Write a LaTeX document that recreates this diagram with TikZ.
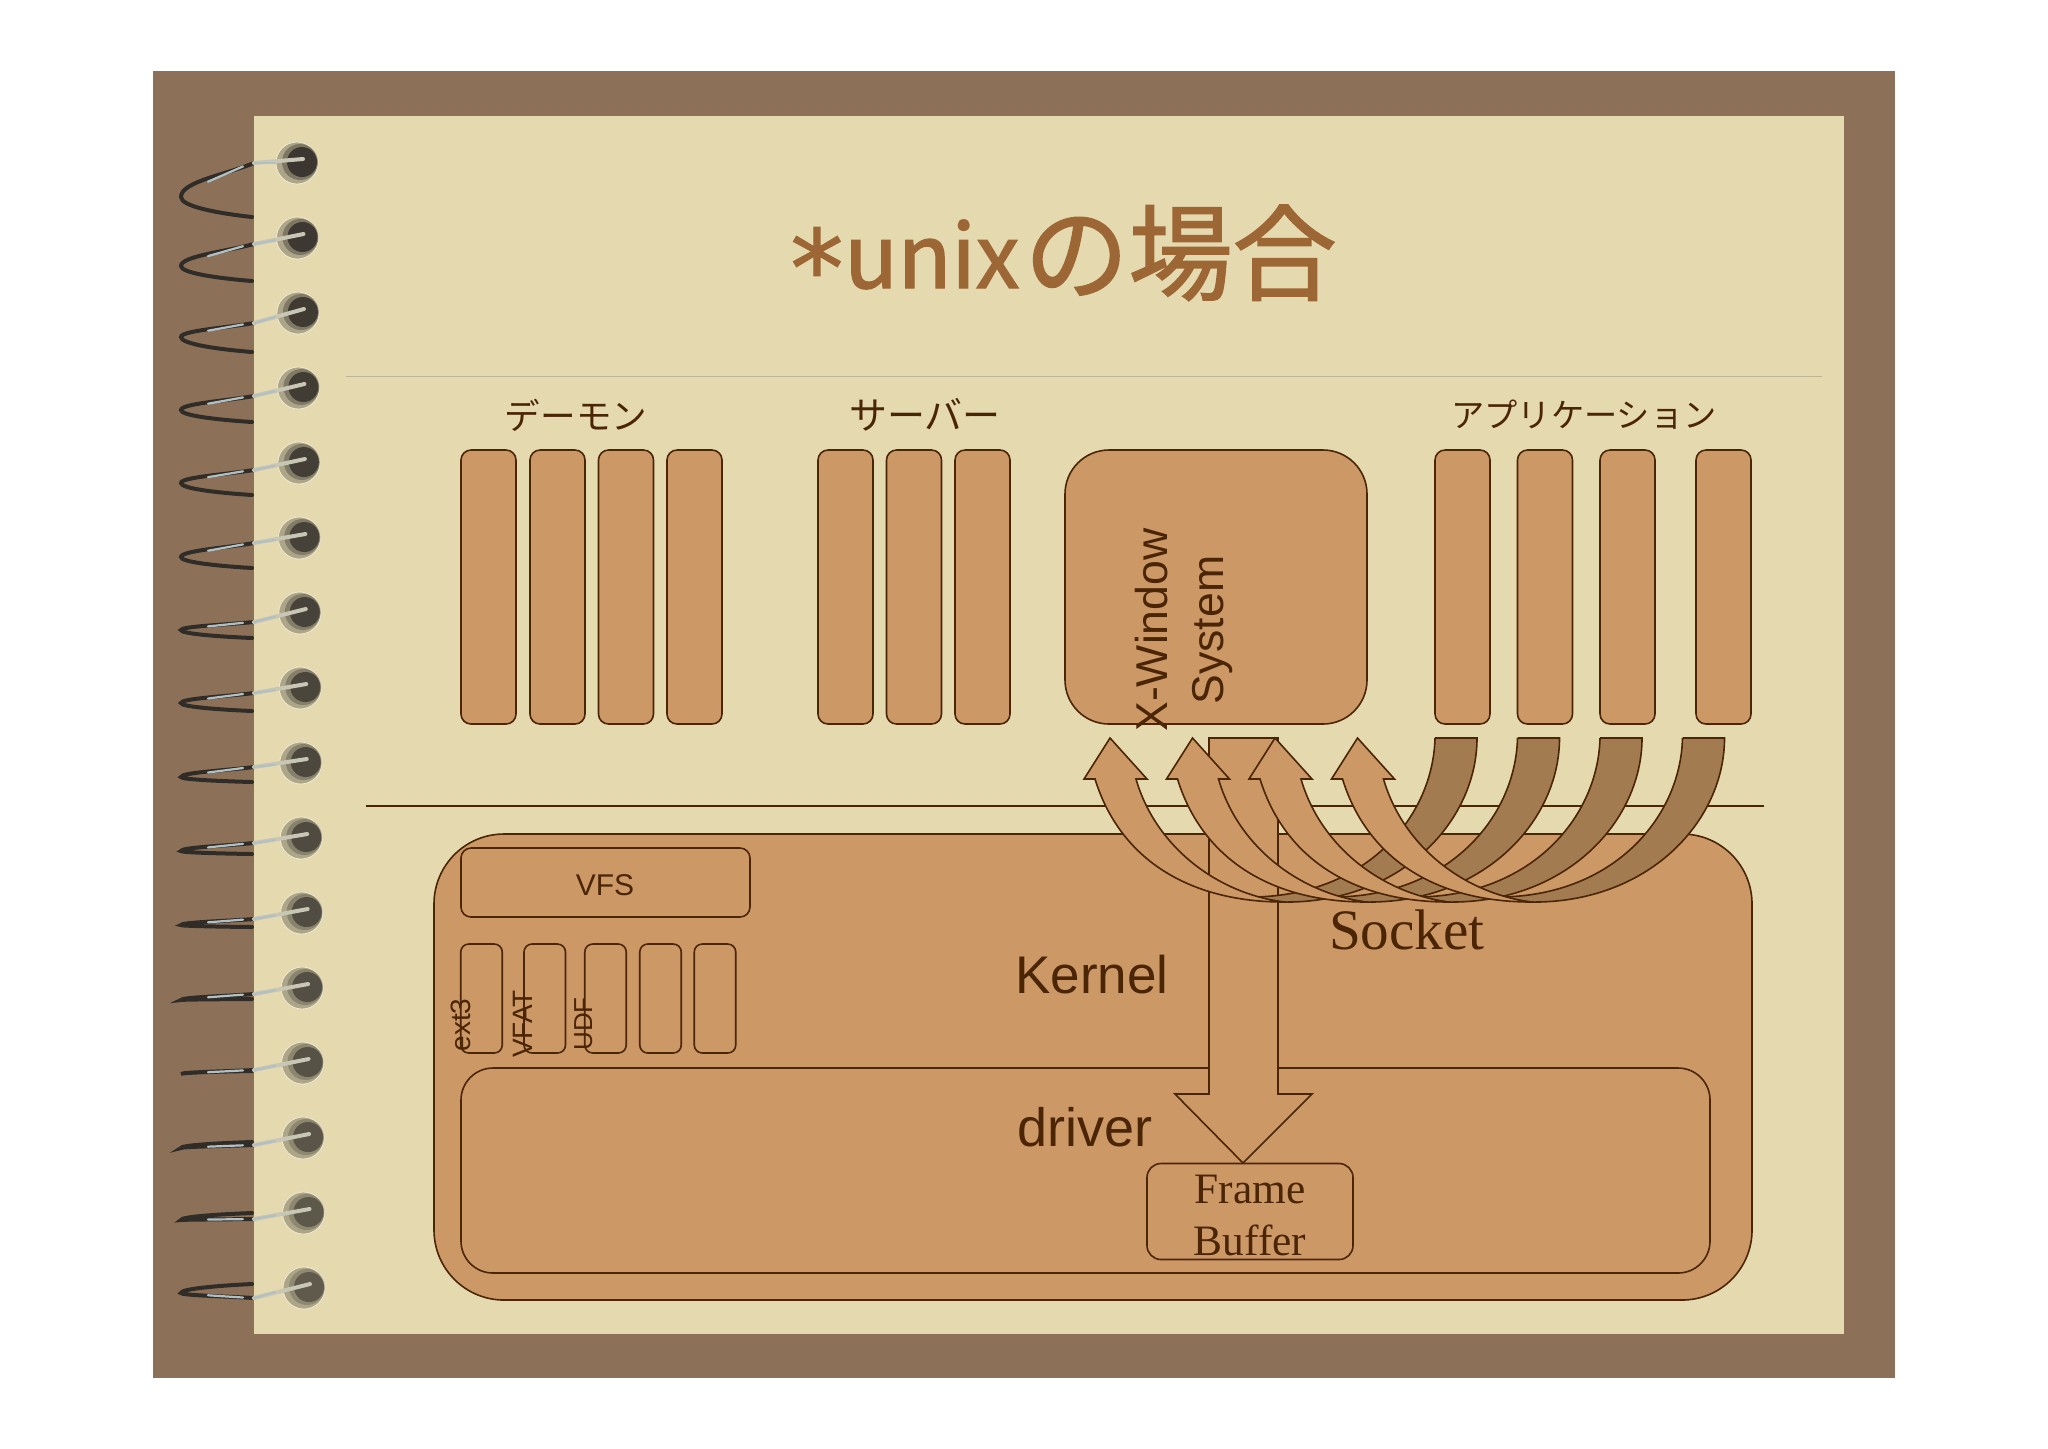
\documentclass[tikz,border=0pt]{standalone}
\usepackage{fontspec}
\setmainfont{Liberation Sans}
\newfontfamily\jpfont{Noto Sans CJK JP}
\newfontfamily\jptitlefont[FakeBold=1.6]{Noto Sans CJK JP}
\newfontfamily\timesfont{Liberation Serif}
\newfontfamily\starfont[FakeBold=1.2]{DejaVu Sans}
\definecolor{frameclr}{RGB}{140, 113, 88}
\definecolor{paperclr}{RGB}{229, 217, 176}
\definecolor{boxclr}{RGB}{204, 152, 102}
\definecolor{backclr}{RGB}{163, 123, 80}
\definecolor{inkclr}{RGB}{74, 37, 6}
\definecolor{titleclr}{RGB}{156, 103, 52}
\definecolor{ruleclr}{RGB}{190, 180, 150}
\definecolor{wireclr}{RGB}{48, 44, 40}
\definecolor{steelclr}{RGB}{176, 192, 196}
\definecolor{pewterclr}{RGB}{200, 198, 180}
\definecolor{holeclr}{RGB}{172, 165, 136}
\definecolor{rimclr}{RGB}{242, 234, 208}
\tikzset{
  procbox/.style={draw=inkclr, fill=boxclr, line width=0.8pt, rounded corners=5pt, inner sep=0pt, outer sep=0pt, minimum width=27.5pt, minimum height=137pt},
  fsbox/.style={draw=inkclr, fill=boxclr, line width=0.8pt, rounded corners=4pt, inner sep=0pt, outer sep=0pt, minimum width=20.75pt, minimum height=54.5pt},
  areabox/.style={draw=inkclr, line width=0.8pt, inner sep=0pt, outer sep=0pt},
  shapeline/.style={draw=inkclr, line width=0.8pt},
  jplabel/.style={text=inkclr, inner sep=0pt},
  fslabel/.style={text=inkclr, inner sep=0pt, rotate=90, anchor=base},
  biglabel/.style={text=inkclr, inner sep=0pt},
  xlabel/.style={text=inkclr, inner sep=0pt, rotate=90, anchor=base, font=\fontsize{22.3}{26}\selectfont},
}
\begin{document}
\begin{tikzpicture}[x=0.5pt, y=-0.5pt]
  \useasboundingbox (0, 0) rectangle (2048, 1448);
  \fill[color=frameclr] (153, 71) rectangle (1895, 1378);
  \fill[color=paperclr] (254, 116) rectangle (1844, 1334);
  \draw[color=ruleclr, line width=0.5pt] (346, 376) to (1822, 376);
  \draw[color=inkclr, line width=0.8pt] (366, 806) to (1764, 806);
  \node[text=titleclr, inner sep=0pt, anchor=base west] (title) at (790, 288)
    {\raisebox{-9pt}{\starfont\fontsize{53}{50}\selectfont *}\kern0.5pt\jptitlefont\fontsize{44}{50}\selectfont unix\kern2.5pt\raisebox{-2pt}{\fontsize{52}{50}\selectfont の場合}};
  % spiral rings
  \foreach \i/\wy/\ly/\ty in {0/0/34/54, 1/6/28/43, 2/10/24/39, 3/8/22/34, 4/7/20/32, 5/5/19/30, 6/9/17/25, 7/5/15/23,
      8/4/14/19, 9/5/13/16, 10/6/12/14, 11/6/12/11, 12/7/11/8, 13/7/10/4, 14/6/7/0, 15/10/5/-4} {
    \pgfmathsetmacro{\hy}{163+75*\i}
    \pgfmathsetmacro{\hx}{297+7*\i/15}
    \pgfmathsetmacro{\ey}{\hy+\wy}
    \pgfmathsetmacro{\ky}{\hy+\ly}
    \pgfmathsetmacro{\ay}{\hy+\ty}
    \pgfmathsetmacro{\ca}{\ey+0.35*(\ky-\ey)}
    \pgfmathsetmacro{\cb}{\ky-0.45*(\ky-\ey)}
    \pgfmathsetmacro{\cc}{\ky+0.45*(\ay-\ky)}
    \pgfmathsetmacro{\cd}{\ay-0.2*(\ay-\ky)}
    \pgfmathsetmacro{\sa}{\ey+0.1*(\ky-\ey)}
    \pgfmathsetmacro{\sb}{\ey+0.55*(\ky-\ey)}
    \pgfmathsetmacro{\dk}{0.85-0.35*\i/15}
    \fill[color=holeclr, draw=rimclr, line width=0.4pt] (\hx, \hy) circle (10.5pt);
    \fill[color=wireclr, opacity=0.45*\dk] (\hx+3, \hy-1) circle (9pt);
    \fill[color=wireclr, opacity=\dk] (\hx+5, \hy-1) circle (7.5pt);
    \draw[color=wireclr, line width=2pt, line cap=round] (254, \ey) .. controls (225, \ca) and (181, \cb) .. (181, \ky)
      .. controls (181, \cc) and (215, \cd) .. (252, \ay);
    \draw[color=steelclr, line width=1.1pt, line cap=round] (243, \sa) to (208, \sb);
    \draw[color=pewterclr, line width=2pt, line cap=round] (\hx+6, \hy-4) to (254, \ey);
    \draw[color=steelclr, line width=1pt, line cap=round] (275, \hy+0.4*\wy) to (254, \ey);
  }
  \node[areabox, fill=boxclr, rounded corners=35pt, minimum width=659pt, minimum height=233pt] (kernel) at (1093, 1067) {};
  \node[areabox, rounded corners=16pt, minimum width=624.5pt, minimum height=102.5pt] (driver) at (1085.5, 1170.5) {};
  \node[procbox, minimum width=144.5pt, minimum height=34.5pt] (vfs) at (605.5, 882.5) {};
  \node[text=inkclr, inner sep=0pt, font=\fontsize{15}{18}\selectfont] (vfstext) at (605, 885) {VFS};
  \foreach \n/\cx in {fsa/481.5, fsb/544.75, fsc/605.5, fsd/660.5, fse/715}
    \node[fsbox] (\n) at (\cx, 998.5) {};
  \node[fslabel, font=\fontsize{14}{16}\selectfont] (ext) at (470, 1025) {ext3};
  \node[fslabel, font=\fontsize{14}{16}\selectfont] (vfat) at (532, 1024) {VFAT};
  \node[fslabel, font=\fontsize{13}{15}\selectfont] (udf) at (592, 1024) {UDF};
  \foreach \n/\cx in {dmna/488.5, dmnb/557.5, dmnc/626, dmnd/694.5, srva/845.5, srvb/914, srvc/982.5, appa/1462.5, appb/1545, appc/1627.5, appd/1723.5}
    \node[procbox] (\n) at (\cx, 587) {};
  \node[procbox, rounded corners=22pt, minimum width=151pt] (xwin) at (1216, 587) {};
  \node[jplabel, font=\jpfont\fontsize{17.8}{20}\selectfont] (daemon) at (576, 415) {デーモン};
  \node[jplabel, font=\jpfont\fontsize{19}{20}\selectfont] (server) at (925, 415) {サーバー};
  \node[jplabel, font=\jpfont\fontsize{16.6}{20}\selectfont] (apps) at (1584, 415) {アプリケーション};
  \node[xlabel] (xwa) at (1167, 630) {X-Window};
  \node[xlabel] (xwb) at (1223, 630) {System};
  \node[biglabel, font=\fontsize{26.5}{30}\selectfont] (ktext) at (1092, 975) {Kernel};
  \node[biglabel, font=\fontsize{27}{30}\selectfont] (dtext) at (1085, 1127) {driver};
  \node[areabox, fill=boxclr, rounded corners=7pt, minimum width=103pt, minimum height=48pt] (fbuf) at (1250, 1211.5) {};
  \node[text=inkclr, inner sep=0pt, align=center, font=\timesfont\fontsize{21.7}{26}\selectfont] (ftext) at (1250, 1215) {Frame\\Buffer};
  \node[text=inkclr, inner sep=0pt, font=\timesfont\fontsize{28.6}{32}\selectfont] (socket) at (1407, 930) {Socket};
  \draw[shapeline, fill=boxclr] (1209, 738) to (1278, 738) to (1278, 1094) to (1312, 1094) to (1243, 1163) to (1175, 1094) to (1209, 1094) to cycle;
  \foreach \dx in {0, 82.5, 165, 247.5} {
    \begin{scope}[shift={(\dx, 0)}]
      \draw[shapeline, fill=backclr] (1435, 738) to (1477, 738) .. controls (1477, 822) and (1400, 904) .. (1282, 902)
        to (1250, 897) .. controls (1365, 897) and (1433, 818) .. (1435, 738);
      \draw[shapeline, fill=boxclr] (1110, 738) to (1147, 779) to (1136, 779) .. controls (1155, 845) and (1215, 893) .. (1284, 902)
        .. controls (1190, 902) and (1120, 860) .. (1095, 779) to (1084, 779) to cycle;
    \end{scope}
  }
\end{tikzpicture}
\end{document}
